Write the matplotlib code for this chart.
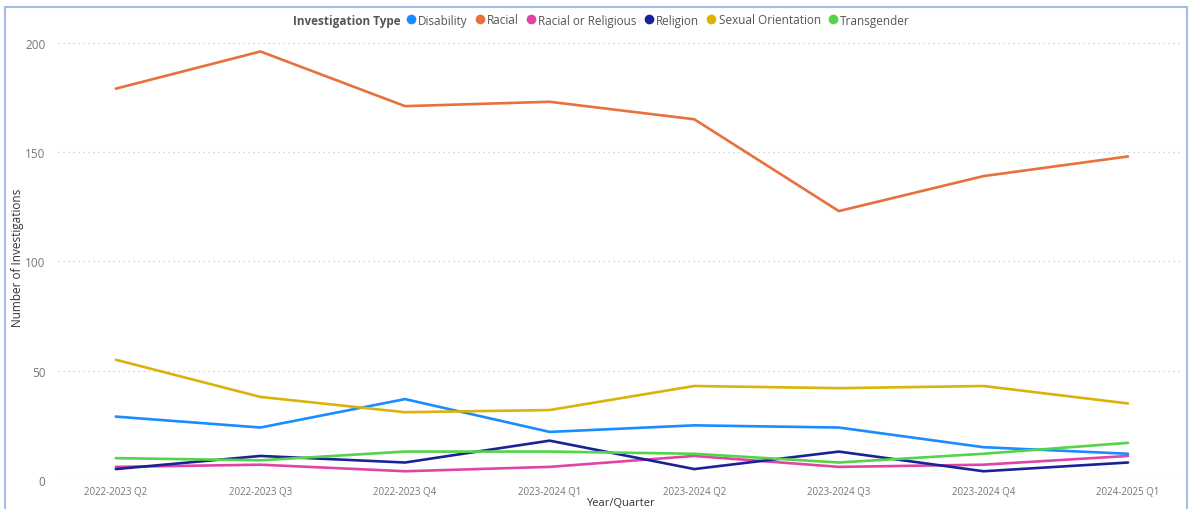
import matplotlib
matplotlib.use("Agg")
import matplotlib.pyplot as plt
from matplotlib.lines import Line2D
from matplotlib.patches import Rectangle

plt.rcParams["font.family"] = ["Open Sans", "DejaVu Sans"]

quarters = ["2022-2023 Q2", "2022-2023 Q3", "2022-2023 Q4", "2023-2024 Q1",
            "2023-2024 Q2", "2023-2024 Q3", "2023-2024 Q4", "2024-2025 Q1"]

disability = [29, 24, 37, 22, 25, 24, 15, 12]
racial = [179, 196, 171, 173, 165, 123, 139, 148]
racial_or_religious = [6, 7, 4, 6, 11, 6, 7, 11]
religion = [5, 11, 8, 18, 5, 13, 4, 8]
sexual_orientation = [55, 38, 31, 32, 43, 42, 43, 35]
transgender = [10, 9, 13, 13, 12, 8, 12, 17]

series = [
    ("Disability", disability, "#1a8cff"),
    ("Racial", racial, "#e8703c"),
    ("Racial or Religious", racial_or_religious, "#e044a7"),
    ("Religion", religion, "#1a2396"),
    ("Sexual Orientation", sexual_orientation, "#dab30a"),
    ("Transgender", transgender, "#55d34a"),
]

W, H = 1193, 510
fig = plt.figure(figsize=(W / 100, H / 100), dpi=100)
ax = fig.add_axes([58 / W, 1 - 481 / H, (1183 - 58) / W, (481 - 35) / H])

x = list(range(len(quarters)))
for name, vals, col in series:
    ax.plot(x, vals, color=col, lw=1.9, solid_capstyle="round",
            solid_joinstyle="round", zorder=3)

ax.set_xlim(-0.4, 7.38)
ax.set_ylim(0, 204)
ax.set_yticks([0, 50, 100, 150, 200])
ax.set_xticks(x)
ax.set_xticklabels(quarters, fontsize=7, color="#777777")
ax.tick_params(axis="y", labelsize=8.5, labelcolor="#777777", length=0, pad=9)
ax.tick_params(axis="x", length=0, pad=4)
ax.grid(axis="y", color="#c8c8c8", linestyle=(0, (1, 3)), lw=0.9)
for s in ax.spines.values():
    s.set_visible(False)

ax.set_ylabel("Number of Investigations", fontsize=8.5, color="#333333")
ax.yaxis.set_label_coords(-34 / (1183 - 58), 0.5)
ax.set_xlabel("Year/Quarter", fontsize=8, color="#333333", labelpad=0)

# legend along the top with the field name in front
fig.text(401 / W, 1 - 21 / H, "Investigation Type", fontsize=8.5, fontweight="bold",
         color="#555555", ha="right", va="center")
handles = [Line2D([], [], marker="o", ls="none", markersize=7, color=c,
                  markeredgewidth=0) for _, _, c in series]
fig.legend(handles, [n for n, _, _ in series], loc="center left",
           bbox_to_anchor=(407 / W, 1 - 21 / H), ncol=6, frameon=False,
           fontsize=8.5, handlelength=0.6, handletextpad=0.3, columnspacing=0.75,
           borderpad=0, borderaxespad=0, labelcolor="#555555")

# frame around the report tile
fig.patches.append(Rectangle((5 / W, -0.05), (1187 - 5) / W, 1.05 - 8 / H,
                             transform=fig.transFigure, fill=False,
                             edgecolor="#a6bce6", lw=1.5))

fig.savefig("out.png", dpi=100, facecolor="white")
